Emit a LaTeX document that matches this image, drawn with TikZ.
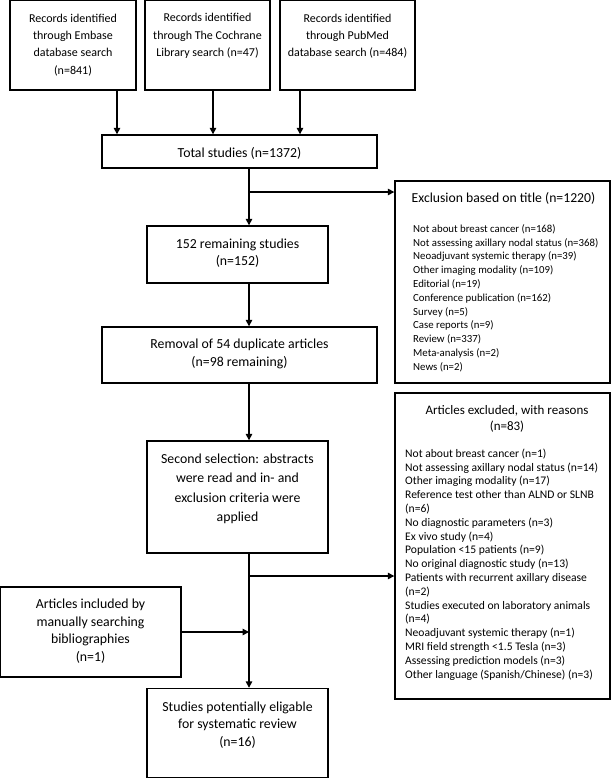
\documentclass[tikz,border=0pt]{standalone}
\usepackage{fontspec}
\setmainfont{Carlito}
\usetikzlibrary{arrows.meta}
\tikzset{
  box/.style={draw, line width=1.4pt, inner sep=0pt},
  txt/.style={inner sep=0pt, align=center, font=\fontsize{12}{17.3}\selectfont},
  txtb/.style={inner sep=0pt, align=center, font=\fontsize{13.8}{17.5}\selectfont},
  txtc/.style={inner sep=0pt, align=center, font=\fontsize{13.8}{19.4}\selectfont},
  ttla/.style={inner sep=0pt, align=center, font=\fontsize{13.7}{16}\selectfont},
  ttlb/.style={inner sep=0pt, align=center, font=\fontsize{13}{16}\selectfont},
  lista/.style={inner sep=0pt, align=left, anchor=west, font=\fontsize{10.8}{13.8}\selectfont},
  listb/.style={inner sep=0pt, align=left, anchor=west, font=\fontsize{11.6}{13.8}\selectfont},
  arr/.style={line width=1.4pt, -{Triangle[length=6.5pt,width=6.5pt]}}
}
\begin{document}
\begin{tikzpicture}[x=1pt, y=-1pt]
\useasboundingbox (0,0) rectangle (611,779);
% boxes
\node[box, minimum width=126pt, minimum height=90pt] (b1) at (73,45) {};
\node[box, minimum width=125pt, minimum height=90pt] (b2) at (207.5,45) {};
\node[box, minimum width=135pt, minimum height=90pt] (b3) at (347.5,45) {};
\node[box, minimum width=275pt, minimum height=33pt] (tot) at (239.5,151.5) {};
\node[box, minimum width=181pt, minimum height=57pt] (rem) at (237.5,254.5) {};
\node[box, minimum width=275pt, minimum height=56pt] (dup) at (239.5,355) {};
\node[box, minimum width=181pt, minimum height=112pt] (sec) at (237.5,497) {};
\node[box, minimum width=181pt, minimum height=90pt] (inc) at (90.5,632) {};
\node[box, minimum width=181pt, minimum height=89pt] (fin) at (237.5,733) {};
\node[box, minimum width=215pt, minimum height=202pt] (ex1) at (502.5,282) {};
\node[box, minimum width=215pt, minimum height=306pt] (ex2) at (502.5,546) {};
% texts
\node[txt] (t1) at (73,45) {Records identified\\through Embase\\database search\\(n=841)};
\node[txt] (t2) at (207.5,36) {Records identified\\through The Cochrane\\Library search (n=47)};
\node[txt] (t3) at (347.5,36) {Records identified\\through PubMed\\database search (n=484)};
\node[txtb] (ttot) at (239.5,153) {Total studies (n=1372)};
\node[txtb] (trem) at (237.5,253) {152 remaining studies\\(n=152)};
\node[txtb] (tdup) at (239.5,354) {Removal of 54 duplicate articles\\(n=98 remaining)};
\node[txtc] (tsec) at (237.5,489) {Second selection: abstracts\\were read and in- and\\exclusion criteria were\\applied};
\node[txtb] (tinc) at (90.5,631) {Articles included by\\manually searching\\bibliographies\\(n=1)};
\node[txtb] (tfin) at (237.5,725) {Studies potentially eligable\\for systematic review\\(n=16)};
\node[ttla] (tex1) at (503.5,198) {Exclusion based on title (n=1220)};
\node[lista] (lex1) at (413,298) {Not about breast cancer (n=168)\\
Not assessing axillary nodal status (n=368)\\
Neoadjuvant systemic therapy (n=39)\\
Other imaging modality (n=109)\\
Editorial (n=19)\\
Conference publication (n=162)\\
Survey (n=5)\\
Case reports (n=9)\\
Review (n=337)\\
Meta-analysis (n=2)\\
News (n=2)};
\node[ttlb] (tex2) at (507,419) {Articles excluded, with reasons\\(n=83)};
\node[listb] (lex2) at (405,564.5) {Not about breast cancer (n=1)\\
Not assessing axillary nodal status (n=14)\\
Other imaging modality (n=17)\\
Reference test other than ALND or SLNB\\
(n=6)\\
No diagnostic parameters (n=3)\\
Ex vivo study (n=4)\\
Population <15 patients (n=9)\\
No original diagnostic study (n=13)\\
Patients with recurrent axillary disease\\
(n=2)\\
Studies executed on laboratory animals\\
(n=4)\\
Neoadjuvant systemic therapy (n=1)\\
MRI field strength <1.5 Tesla (n=3)\\
Assessing prediction models (n=3)\\
Other language (Spanish/Chinese) (n=3)};
% connectors
\coordinate (c1) at (117,0);
\coordinate (c2) at (213,0);
\coordinate (c3) at (300,0);
\coordinate (m) at (249,0);
\coordinate (br1) at (249,192);
\coordinate (br2) at (249,576);
\coordinate (jn) at (249,632);
\draw[arr] (c1 |- b1.south) -- (c1 |- tot.north);
\draw[arr] (c2 |- b2.south) -- (c2 |- tot.north);
\draw[arr] (c3 |- b3.south) -- (c3 |- tot.north);
\draw[arr] (m |- tot.south) -- (m |- rem.north);
\draw[arr] (br1) -- (br1 -| ex1.west);
\draw[arr] (m |- rem.south) -- (m |- dup.north);
\draw[arr] (m |- dup.south) -- (m |- sec.north);
\draw[arr] (m |- sec.south) -- (m |- fin.north);
\draw[arr] (br2) -- (br2 -| ex2.west);
\draw[arr] (inc.east |- jn) -- (jn);
\end{tikzpicture}
\end{document}
